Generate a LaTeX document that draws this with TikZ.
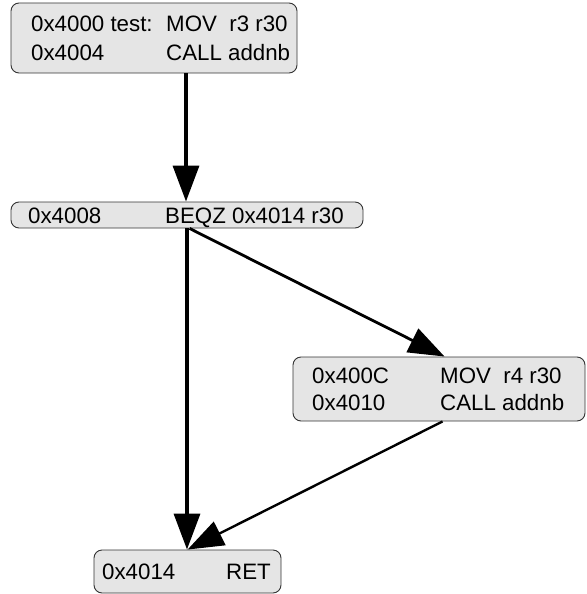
\documentclass[tikz,border=0pt]{standalone}
\usepackage{fontspec}
\setmainfont{Liberation Sans}
\usetikzlibrary{arrows.meta}
\begin{document}
\begin{tikzpicture}[x=1pt,y=-1pt,
  block/.style={draw=black!80,line width=0.9pt,fill=black!10,rounded corners=8pt,
    inner sep=0pt,minimum width=#1},
  code/.style={anchor=base west,inner sep=0pt,font=\fontsize{22.3}{26}\selectfont},
  flow/.style={line width=#1,-{Triangle[length=36pt,width=26pt]}},
  flow/.default=3.5pt]
\useasboundingbox (0,0) rectangle (586,594);

% basic blocks
\node[block=286pt,minimum height=70pt] (b1) at (154,38) {};
\node[block=352pt,minimum height=26pt] (b2) at (187,215) {};
\node[block=292pt,minimum height=64pt] (b3) at (439,389) {};
\node[block=187pt,minimum height=43pt] (b4) at (187.5,571.5) {};

% instructions
\node[code] (t1a) at (31,32) {0x4000 test:};
\node[code] (t1b) at (166,32) {MOV\ \ r3 r30};
\node[code] (t1c) at (31,60) {0x4004};
\node[code] (t1d) at (166,60) {CALL addnb};

\node[code] (t2a) at (28,223) {0x4008};
\node[code] (t2b) at (165,223) {BEQZ 0x4014 r30};

\node[code] (t3a) at (312,383) {0x400C};
\node[code] (t3b) at (440,383) {MOV\ \ r4 r30};
\node[code] (t3c) at (312,410) {0x4010};
\node[code] (t3d) at (440,410) {CALL addnb};

\node[code] (t4a) at (102,579) {0x4014};
\node[code] (t4b) at (226,579) {RET};

% control flow edges
\draw[flow] (b1.south -| 186,0) -- (b2.north -| 186,0);
\draw[flow] (b2.south -| 187,0) -- (b4.north -| 187,0);
\draw[flow=2.8pt] ([xshift=179pt]b2.south west) -- ([xshift=152pt]b3.north west);
\draw[flow=2.4pt] ([xshift=150pt]b3.south west) -- ([xshift=94pt]b4.north west);
\end{tikzpicture}
\end{document}
